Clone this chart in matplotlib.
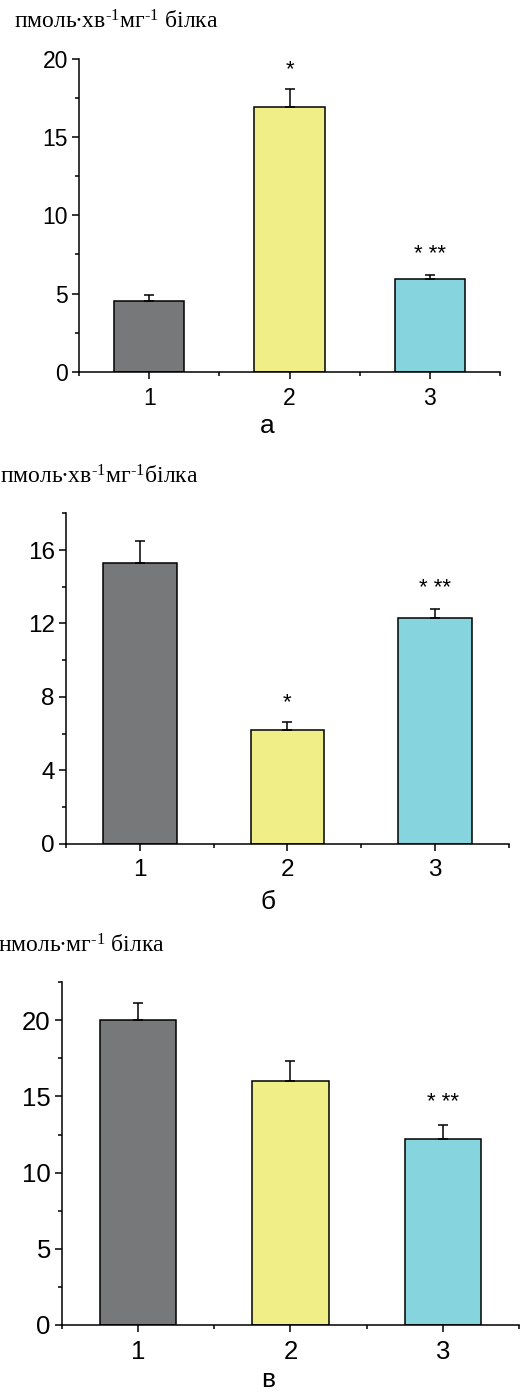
import matplotlib
matplotlib.use("Agg")
import matplotlib.pyplot as plt
from matplotlib.ticker import MultipleLocator, FixedLocator

plt.rcParams['font.family'] = ['Liberation Sans', 'DejaVu Sans']
plt.rcParams['mathtext.fontset'] = 'custom'
plt.rcParams['mathtext.rm'] = 'Liberation Serif'
plt.rcParams['mathtext.it'] = 'Liberation Serif'

# ==============================
# ДАНІ
# ==============================
groups = [1, 2, 3]
colors = ['#76787A', '#F0EE86', '#86D4DD']

vals_a = [4.55, 16.9, 5.9]
err_a = [0.33, 1.15, 0.27]
stars_a = ['', '*', '* **']

vals_b = [15.3, 6.2, 12.3]
err_b = [1.2, 0.45, 0.5]
stars_b = ['', '*', '* **']

vals_c = [20.0, 16.0, 12.2]
err_c = [1.15, 1.35, 0.95]
stars_c = ['', '', '* **']

ylabels = [r"пмоль∙хв$^{\text{-1}}$мг$^{\text{-1}}$ білка",
           r"пмоль∙хв$^{\text{-1}}$мг$^{\text{-1}}$білка",
           r"нмоль∙мг$^{\text{-1}}$ білка"]
panel_names = ['а', 'б', 'в']

# ==============================
# ПАНЕЛІ
# ==============================
fig = plt.figure(figsize=(5.27, 13.93), dpi=100)

panels = [
    # rect, ylim, major, minor, tick fontsize, star y, label pos, name y (baseline)
    ([0.150, 0.733, 0.799, 0.225], 20, 5, 2.5, 16.5, [0, 19.3, 7.5], (0.027, 0.984), 0.6895),
    ([0.125, 0.3943, 0.841, 0.2372], 18, 4, 2, 17.5, [0, 7.7, 13.9], (0.0, 0.658), 0.3475),
    ([0.1176, 0.049, 0.867, 0.2458], 22.5, 5, 2.5, 18.5, [0, 0, 14.6], (-0.003, 0.321), 0.0045),
]
data = [(vals_a, err_a, stars_a), (vals_b, err_b, stars_b), (vals_c, err_c, stars_c)]

for i, (rect, ytop, major, minor, tfs, star_y, lab_pos, name_y) in enumerate(panels):
    vals, errs, stars = data[i]
    ax = fig.add_axes(rect)
    ax.bar(groups, vals, width=0.5, color=colors, edgecolor='black', linewidth=1.1,
           yerr=[[0, 0, 0], errs], capsize=3.5,
           error_kw=dict(ecolor='black', elinewidth=1.1, capthick=1.1))
    for x, s, y in zip(groups, stars, star_y):
        if s:
            ax.text(x, y, s, ha='center', va='center', fontsize=16)

    ax.set_xlim(0.5, 3.5)
    ax.set_ylim(0, ytop)
    ax.spines['top'].set_visible(False)
    ax.spines['right'].set_visible(False)
    ax.spines['left'].set_linewidth(1.1)
    ax.spines['bottom'].set_linewidth(1.1)
    ax.set_xticks(groups)
    ax.xaxis.set_minor_locator(FixedLocator([0.5, 1.5, 2.5, 3.5]))
    ax.yaxis.set_major_locator(MultipleLocator(major))
    ax.yaxis.set_minor_locator(MultipleLocator(minor))
    ax.tick_params(which='major', direction='out', length=5, width=1.1, labelsize=tfs, pad=3)
    ax.tick_params(axis='x', which='major', pad=6)
    ax.tick_params(which='minor', direction='out', length=3, width=1.1)

    fig.text(lab_pos[0], lab_pos[1], ylabels[i], ha='left', va='center', fontsize=17,
             family=['Liberation Serif', 'DejaVu Serif'])
    fig.text(0.508, name_y, panel_names[i], ha='center', va='baseline', fontsize=19)

plt.savefig("out.png", dpi=100)
print("ok")
